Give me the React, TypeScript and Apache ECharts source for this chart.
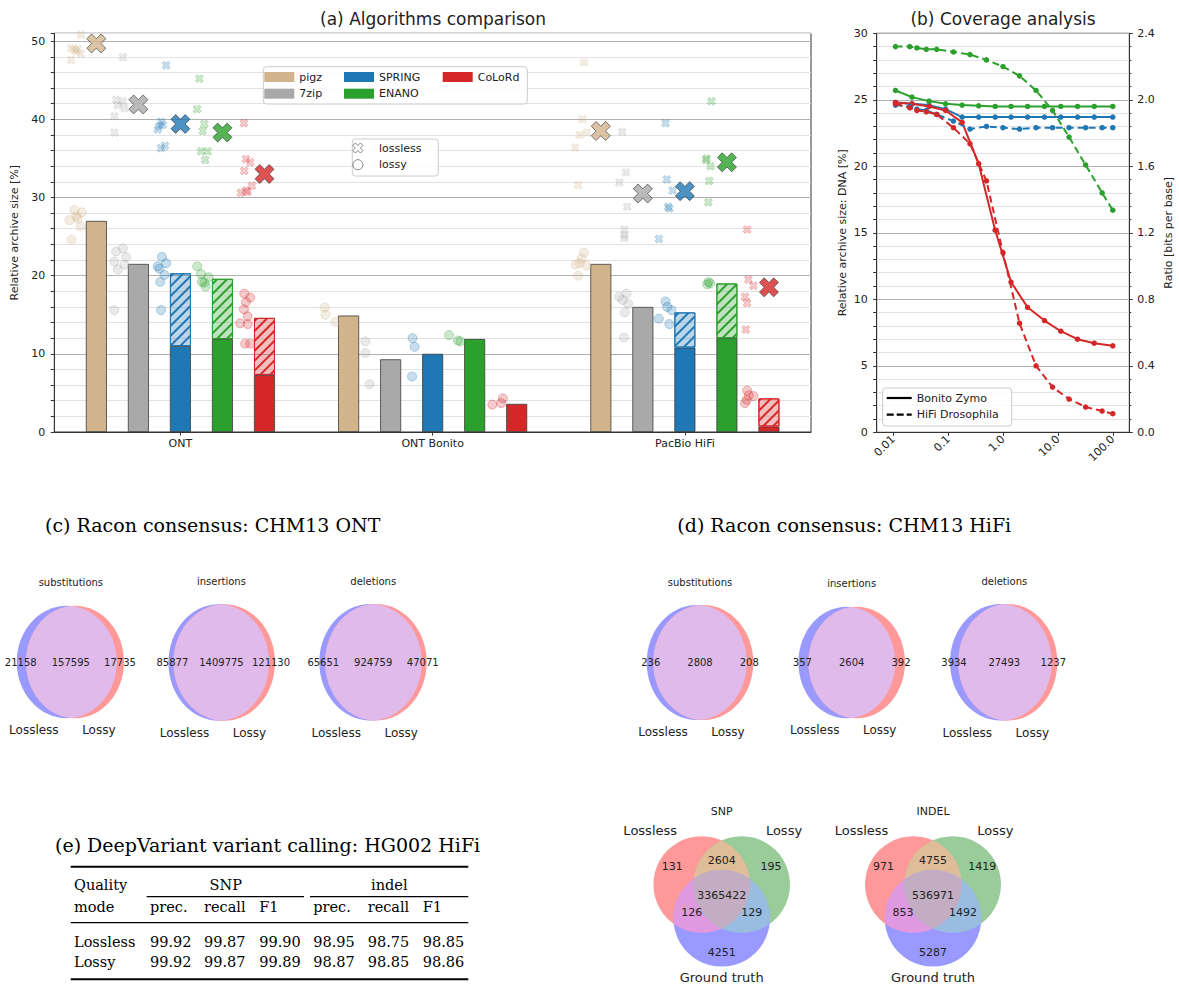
import React, { useEffect, useRef } from "react";
import * as echarts from "echarts";

// ---------------- (a) Algorithms comparison ----------------
const categories = ["ONT", "ONT Bonito", "PacBio HiFi"];
const tools = ["pigz", "7zip", "SPRING", "ENANO", "CoLoRd"];
const toolColors = ["#d2b48c", "#a9a9a9", "#1f77b4", "#2ca02c", "#d62728"];

// solid part of the bars and total bar height (hatched part = total - solid)
const pigzBar = [27.0, 14.9, 21.5];
const sevenZipBar = [21.5, 9.3, 16.0];
const springSolid = [11.0, 10.0, 10.8];
const springTotal = [20.3, 10.0, 15.3];
const enanoSolid = [11.9, 11.9, 12.0];
const enanoTotal = [19.6, 11.9, 19.0];
const colordSolid = [7.3, 3.6, 0.7];
const colordTotal = [14.6, 3.6, 4.3];

// lossless means (big X markers), null = not available
const pigzMean = [49.7, null, 38.5];
const sevenZipMean = [41.9, null, 30.5];
const springMean = [39.4, null, 30.8];
const enanoMean = [38.3, null, 34.5];
const colordMean = [33.0, null, 18.5];

// individual runs: [offset within slot, value] per category
const pigzLossless = [
  [[-0.37, 50.8], [-0.6, 49.1], [-0.44, 49.0], [-0.48, 48.7], [-0.37, 48.4], [-0.6, 47.6], [-0.52, 48.9]],
  [],
  [[-0.4, 47.3], [-0.44, 40.0], [-0.33, 38.3], [-0.5, 38.0], [-0.61, 36.4], [-0.54, 31.6]],
];
const pigzLossy = [
  [[-0.52, 28.4], [-0.34, 28.1], [-0.64, 27.1], [-0.44, 27.3], [-0.37, 26.3], [-0.59, 24.6], [-0.48, 27.6]],
  [[-0.57, 15.9], [-0.55, 15.0], [-0.31, 14.1]],
  [[-0.4, 22.95], [-0.46, 22.2], [-0.6, 21.4], [-0.5, 21.6], [-0.34, 21.3], [-0.54, 20.0]],
];
const sevenZipLossless = [
  [[-0.37, 47.95], [-0.53, 42.5], [-0.33, 41.4], [-0.57, 40.4], [-0.57, 38.3], [-0.49, 41.8], [-0.37, 42.3]],
  [],
  [[-0.49, 38.4], [-0.4, 33.2], [-0.56, 31.9], [-0.37, 28.8], [-0.44, 25.9], [-0.44, 25.2], [-0.44, 24.8]],
];
const sevenZipLossy = [
  [[-0.37, 23.5], [-0.53, 23.1], [-0.29, 22.4], [-0.57, 21.8], [-0.33, 21.4], [-0.49, 20.8], [-0.57, 15.6]],
  [[-0.6, 11.6], [-0.6, 10.1], [-0.5, 6.1]],
  [[-0.57, 17.3], [-0.39, 17.7], [-0.48, 16.9], [-0.35, 16.4], [-0.43, 15.3], [-0.45, 12.1]],
];
const springLossless = [
  [[-0.34, 46.9], [-0.46, 39.7], [-0.5, 39.1], [-0.54, 38.7], [-0.42, 39.3], [-0.46, 36.3], [-0.37, 36.6]],
  [],
  [[-0.46, 39.5], [-0.43, 32.3], [-0.29, 30.9], [-0.4, 28.8], [-0.37, 28.6], [-0.62, 24.7]],
];
const springLossy = [
  [[-0.44, 22.4], [-0.54, 21.2], [-0.34, 21.6], [-0.38, 20.1], [-0.48, 19.2], [-0.46, 15.6], [-0.5, 20.9]],
  [[-0.48, 12.0], [-0.43, 10.9], [-0.49, 7.1]],
  [[-0.46, 16.7], [-0.42, 16.0], [-0.32, 15.6], [-0.62, 14.5], [-0.37, 13.8]],
];
const enanoLossless = [
  [[-0.55, 45.2], [-0.6, 41.3], [-0.43, 39.4], [-0.47, 38.5], [-0.51, 35.9], [-0.35, 35.9], [-0.41, 34.8]],
  [],
  [[-0.37, 42.3], [-0.5, 34.8], [-0.39, 34.0], [-0.42, 32.1], [-0.44, 29.4], [-0.48, 35.0]],
];
const enanoLossy = [
  [[-0.6, 21.2], [-0.51, 20.2], [-0.33, 19.8], [-0.43, 19.1], [-0.4, 18.6], [-0.49, 19.2]],
  [[-0.61, 12.4], [-0.4, 11.7], [-0.34, 11.6]],
  [[-0.44, 19.2], [-0.4, 19.0], [-0.47, 18.9]],
];
const colordLossless = [
  [[-0.49, 39.5], [-0.44, 34.9], [-0.34, 34.5], [-0.48, 33.4], [-0.3, 31.5], [-0.44, 30.9], [-0.56, 30.6], [-0.4, 30.7]],
  [],
  [[-0.52, 25.9], [-0.49, 19.5], [-0.37, 18.7], [-0.57, 17.3], [-0.52, 16.5], [-0.55, 13.1]],
];
const colordLossy = [
  [[-0.48, 17.7], [-0.34, 17.2], [-0.44, 16.6], [-0.49, 15.7], [-0.4, 14.8], [-0.58, 13.9], [-0.4, 13.8], [-0.46, 11.3], [-0.34, 11.3]],
  [[-0.58, 3.5], [-0.37, 3.7], [-0.33, 4.3]],
  [[-0.52, 5.3], [-0.37, 4.6], [-0.48, 4.7], [-0.57, 3.7], [-0.53, 4.1]],
];

// ---------------- (b) Coverage analysis ----------------
const coverageZymo = [0.011, 0.022, 0.045, 0.09, 0.18, 0.36, 0.72, 1.4, 2.8, 5.7, 11.3, 22.8, 46, 100];
const springZymo = [24.8, 24.7, 24.6, 24.3, 23.7, 23.7, 23.7, 23.7, 23.7, 23.7, 23.7, 23.7, 23.7, 23.7];
const enanoZymo = [25.7, 25.2, 24.9, 24.7, 24.6, 24.55, 24.5, 24.5, 24.5, 24.5, 24.5, 24.5, 24.5, 24.5];
const colordZymo = [24.8, 24.7, 24.5, 24.2, 23.3, 20.2, 15.2, 11.3, 9.4, 8.4, 7.6, 7.0, 6.7, 6.5];
const coverageDroso = [0.011, 0.02, 0.027, 0.04, 0.062, 0.125, 0.25, 0.5, 1, 2, 4, 8, 16, 32, 64, 100];
const springDroso = [24.6, 24.5, 24.3, 24.2, 23.9, 23.4, 22.8, 23.0, 22.9, 22.8, 22.9, 22.9, 22.9, 22.9, 22.9, 22.9];
const enanoDroso = [29.0, 29.0, 28.9, 28.8, 28.8, 28.6, 28.4, 28.0, 27.5, 26.8, 25.7, 24.2, 22.2, 20.1, 18.0, 16.7];
const colordDroso = [24.7, 24.4, 24.2, 24.1, 23.9, 22.9, 21.7, 18.9, 13.5, 8.2, 5.0, 3.4, 2.5, 1.9, 1.6, 1.4];

// ---------------- (c)/(d) Racon consensus ----------------
const raconTitles = ["substitutions", "insertions", "deletions"];
const ontLosslessOnly = [21158, 85877, 65651];
const ontShared = [157595, 1409775, 924759];
const ontLossyOnly = [17735, 121130, 47071];
const hifiLosslessOnly = [236, 357, 3934];
const hifiShared = [2808, 2604, 27493];
const hifiLossyOnly = [208, 392, 1237];

// ---------------- (e) DeepVariant ----------------
const qualityModes = ["Lossless", "Lossy"];
const metricNames = ["prec.", "recall", "F1"];
const snpMetrics = [[99.92, 99.87, 99.9], [99.92, 99.87, 99.89]];
const indelMetrics = [[98.95, 98.75, 98.85], [98.87, 98.85, 98.86]];
const venn3Titles = ["SNP", "INDEL"];
const venn3Sets = ["Lossless", "Lossy", "Ground truth"];
// region order: A only, B only, A&B, C only, A&C, B&C, A&B&C
const snpCounts = [131, 195, 2604, 4251, 126, 129, 3365422];
const indelCounts = [971, 1419, 4755, 5287, 853, 1492, 536971];

// ---------------- helpers / layout ----------------
const SANS = "'DejaVu Sans', sans-serif";
const SERIF = "'DejaVu Serif', serif";
const TXT = "#222";
const XPATH = "path://M0,2.5L2.5,0L5,2.5L7.5,0L10,2.5L7.5,5L10,7.5L7.5,10L5,7.5L2.5,10L0,7.5L2.5,5Z";
const SOLID_ICON = "path://M0,0H25V2.2H0Z";
const DASH_ICON = "path://M0,0H7V2.2H0Z M10,0H17V2.2H10Z M20,0H25V2.2H20Z";

function rgba(hex: string, a: number) {
  const n = parseInt(hex.slice(1), 16);
  return `rgba(${(n >> 16) & 255},${(n >> 8) & 255},${n & 255},${a})`;
}
const slotX = (ci: number, ti: number, dx = 0) => ci + 0.5 + (ti - 2 + dx) / 6;

type E = { cx: number; cy: number; rx: number; ry: number };
function ellPts(e: E, n = 360): number[][] {
  const out: number[][] = [];
  for (let i = 0; i < n; i++) {
    const t = (i / n) * Math.PI * 2;
    out.push([e.cx + e.rx * Math.cos(t), e.cy + e.ry * Math.sin(t)]);
  }
  return out;
}
function inside(p: number[], e: E) {
  const dx = (p[0] - e.cx) / e.rx, dy = (p[1] - e.cy) / e.ry;
  return dx * dx + dy * dy <= 1 + 1e-9;
}
function intersect(shapes: E[]): number[][] {
  const pts: number[][] = [];
  shapes.forEach((s, i) =>
    ellPts(s).forEach((p) => {
      if (shapes.every((o, j) => j === i || inside(p, o))) pts.push(p);
    })
  );
  const mx = pts.reduce((a, p) => a + p[0], 0) / pts.length;
  const my = pts.reduce((a, p) => a + p[1], 0) / pts.length;
  pts.sort((a, b) => Math.atan2(a[1] - my, a[0] - mx) - Math.atan2(b[1] - my, b[0] - mx));
  return pts;
}

const venn2Layout = [
  { cxA: 66.7, cxB: 75, cy: 662, rxA: 50, rxB: 49, ry: 56.2 },
  { cxA: 218.7, cxB: 224.2, cy: 662.5, rxA: 50.3, rxB: 50.8, ry: 58.2 },
  { cxA: 370.5, cxB: 375.9, cy: 662.3, rxA: 51.2, rxB: 50.8, ry: 58.3 },
  { cxA: 696.7, cxB: 703.3, cy: 662.5, rxA: 50, rxB: 50, ry: 57.5 },
  { cxA: 846.7, cxB: 856.7, cy: 662.5, rxA: 48.3, rxB: 48.3, ry: 55.8 },
  { cxA: 1000.8, cxB: 1007.8, cy: 662.3, rxA: 50.8, rxB: 49.5, ry: 58.3 },
];
const venn3Layout = [
  { cx: 721.7, cy: 884.5, dx: 20, dyC: 33.8, r: 48.3 },
  { cx: 933, cy: 884.5, dx: 19.7, dyC: 33.8, r: 48.3 },
];
const venn3LabelOffsets = [[-49.4, -18.2], [49.3, -18.2], [0, -24.5], [0, 67.8], [-30, 27.8], [30, 27.8], [0, 10.5]];
const tableCols = [150, 204, 259.3, 313.3, 367.7, 422.7];

function buildGraphics() {
  const g: any[] = [];
  const text = (t: string, x: number, y: number, size: number, family: string, align = "center", extra: any = {}) =>
    g.push({
      type: "text", x, y, z: 10,
      style: { text: t, fontSize: size, fontFamily: family, fill: extra.fill || TXT, align, verticalAlign: "middle" },
    });
  // panel titles
  text("(a) Algorithms comparison", 433, 19, 17, SANS);
  text("(b) Coverage analysis", 1003, 19, 17, SANS);
  text("(c) Racon consensus: CHM13 ONT", 45, 525, 19, SERIF, "left", { fill: "#000" });
  text("(d) Racon consensus: CHM13 HiFi", 677.3, 525, 19, SERIF, "left", { fill: "#000" });
  text("(e) DeepVariant variant calling: HG002 HiFi", 55, 845, 19, SERIF, "left", { fill: "#000" });

  // legend frames
  const frame = (x: number, y: number, w: number, h: number) =>
    g.push({ type: "rect", z: 3, shape: { x, y, width: w, height: h, r: 3 }, style: { fill: "rgba(255,255,255,0.85)", stroke: "#cccccc", lineWidth: 1 } });
  frame(263.3, 66.7, 264, 37.3);
  frame(352.3, 139, 86, 37);
  frame(882.7, 388, 129, 38);

  // two-set venns
  const onlyA = [...ontLosslessOnly, ...hifiLosslessOnly];
  const shared = [...ontShared, ...hifiShared];
  const onlyB = [...ontLossyOnly, ...hifiLossyOnly];
  venn2Layout.forEach((L, i) => {
    const A: E = { cx: L.cxA, cy: L.cy, rx: L.rxA, ry: L.ry };
    const B: E = { cx: L.cxB, cy: L.cy, rx: L.rxB, ry: L.ry };
    g.push({ type: "ellipse", shape: A, style: { fill: "#9999ff" } });
    g.push({ type: "ellipse", shape: B, style: { fill: "#ff9999" } });
    g.push({ type: "polygon", shape: { points: intersect([A, B]) }, style: { fill: "#e0baeb" } });
    const mid = (L.cxA + L.cxB) / 2;
    text(String(onlyA[i]), L.cxA - L.rxA + 4, L.cy, 10, SANS);
    text(String(shared[i]), mid, L.cy, 10, SANS);
    text(String(onlyB[i]), L.cxB + L.rxB - 4, L.cy, 10, SANS);
    text(raconTitles[i % 3], mid, L.cy - L.ry - 23, 10, SANS);
    text("Lossless", mid - 37, L.cy + L.ry + 12, 12, SANS);
    text("Lossy", mid + 28, L.cy + L.ry + 12, 12, SANS);
  });

  // three-set venns
  const counts3 = [snpCounts, indelCounts];
  venn3Layout.forEach((L, i) => {
    const A: E = { cx: L.cx - L.dx, cy: L.cy, rx: L.r, ry: L.r };
    const B: E = { cx: L.cx + L.dx, cy: L.cy, rx: L.r, ry: L.r };
    const C: E = { cx: L.cx, cy: L.cy + L.dyC, rx: L.r, ry: L.r };
    [[A, "#ff9999"], [B, "#99cc99"], [C, "#9999ff"]].forEach(([e, c]: any) =>
      g.push({ type: "circle", shape: { cx: e.cx, cy: e.cy, r: e.rx }, style: { fill: c } })
    );
    [[[A, B], "#e0bd99"], [[A, C], "#e099e0"], [[B, C], "#99bde0"], [[A, B, C], "#c2adc2"]].forEach(([s, c]: any) =>
      g.push({ type: "polygon", shape: { points: intersect(s) }, style: { fill: c } })
    );
    counts3[i].forEach((v, k) =>
      text(String(v), L.cx + venn3LabelOffsets[k][0], L.cy + venn3LabelOffsets[k][1], 11, SANS)
    );
    text(venn3Titles[i], L.cx, 811.7, 11, SANS);
    text(venn3Sets[0], L.cx - 71.5, 830.7, 13, SANS);
    text(venn3Sets[1], L.cx + 62.3, 830.7, 13, SANS);
    text(venn3Sets[2], L.cx, 977.3, 13, SANS);
  });

  // table
  const rule = (x1: number, x2: number, y: number, w: number) =>
    g.push({ type: "line", shape: { x1, y1: y, x2, y2: y }, style: { stroke: "#000", lineWidth: w } });
  rule(70.7, 468.3, 866.7, 2);
  rule(146.7, 304, 896.7, 1.2);
  rule(310, 468.3, 896.7, 1.2);
  rule(70.7, 468.3, 922.7, 1.2);
  rule(70.7, 468.3, 979.3, 2);
  const T = 14.5;
  text("Quality", 74, 885, T, SERIF, "left", { fill: "#000" });
  text("mode", 74, 906.7, T, SERIF, "left", { fill: "#000" });
  text("SNP", 225.7, 885, T, SERIF, "center", { fill: "#000" });
  text("indel", 389.3, 885, T, SERIF, "center", { fill: "#000" });
  [...metricNames, ...metricNames].forEach((m, k) => text(m, tableCols[k], 906.7, T, SERIF, "left", { fill: "#000" }));
  qualityModes.forEach((mode, r) => {
    const y = 941.7 + r * 20;
    text(mode, 74, y, T, SERIF, "left", { fill: "#000" });
    [...snpMetrics[r], ...indelMetrics[r]].forEach((v, k) => text(v.toFixed(2), tableCols[k], y, T, SERIF, "left", { fill: "#000" }));
  });
  return g;
}

function buildOption() {
  const solidBars = [pigzBar, sevenZipBar, springSolid, enanoSolid, colordSolid];
  const totalBars = [pigzBar, sevenZipBar, springTotal, enanoTotal, colordTotal];
  const losslessPts = [pigzLossless, sevenZipLossless, springLossless, enanoLossless, colordLossless];
  const lossyPts = [pigzLossy, sevenZipLossy, springLossy, enanoLossy, colordLossy];
  const means = [pigzMean, sevenZipMean, springMean, enanoMean, colordMean];

  const series: any[] = [];
  tools.forEach((tool, ti) => {
    const hue = toolColors[ti];
    series.push({
      type: "bar", name: tool, stack: tool, xAxisIndex: 0, yAxisIndex: 0, barWidth: "8.33%", barGap: "100%",
      data: solidBars[ti], itemStyle: { color: hue, borderColor: "#3c3c3c", borderWidth: 0.8 }, z: 2,
    });
    if (ti >= 2) {
      series.push({
        type: "bar", name: `${tool} (hatched)`, stack: tool, xAxisIndex: 0, yAxisIndex: 0, barWidth: "8.33%", barGap: "100%",
        data: totalBars[ti].map((v, i) => {
          const d = v - solidBars[ti][i];
          return d > 0.05 ? Math.round(d * 100) / 100 : "-";
        }),
        itemStyle: {
          color: rgba(hue, 0.3), borderColor: hue, borderWidth: 1,
          decal: { symbol: "rect", symbolSize: 1, color: hue, dashArrayX: [1, 0], dashArrayY: [1.4, 4.6], rotation: -Math.PI / 4 },
        },
        z: 2,
      });
    }
  });
  tools.forEach((tool, ti) => {
    const hue = toolColors[ti];
    series.push({
      type: "scatter", name: `${tool} lossless runs`, xAxisIndex: 1, yAxisIndex: 0, symbol: XPATH, symbolSize: 8,
      data: losslessPts[ti].flatMap((pts, ci) => pts.map(([dx, v]) => [slotX(ci, ti, dx), v])),
      itemStyle: { color: rgba(hue, 0.3), borderColor: rgba(hue, 0.45), borderWidth: 0.8 }, z: 3,
    });
    series.push({
      type: "scatter", name: `${tool} lossy runs`, xAxisIndex: 1, yAxisIndex: 0, symbol: "circle", symbolSize: 9,
      data: lossyPts[ti].flatMap((pts, ci) => pts.map(([dx, v]) => [slotX(ci, ti, dx), v])),
      itemStyle: { color: rgba(hue, 0.3), borderColor: rgba(hue, 0.5), borderWidth: 0.8 }, z: 3,
    });
    series.push({
      type: "scatter", name: `${tool} lossless mean`, xAxisIndex: 1, yAxisIndex: 0, symbol: XPATH, symbolSize: 19,
      data: means[ti].map((v, ci) => (v == null ? null : [slotX(ci, ti), v])).filter((d) => d),
      itemStyle: { color: hue, borderColor: "#333", borderWidth: 0.8 }, z: 4,
    });
  });
  series.push({ type: "scatter", name: "lossless", xAxisIndex: 1, yAxisIndex: 0, data: [], symbol: XPATH, itemStyle: { color: "#fff", borderColor: "#444", borderWidth: 0.8 } });
  series.push({ type: "scatter", name: "lossy", xAxisIndex: 1, yAxisIndex: 0, data: [], symbol: "circle", itemStyle: { color: "#fff", borderColor: "#444", borderWidth: 0.8 } });

  const coverageLines = [
    { name: "SPRING Bonito Zymo", x: coverageZymo, y: springZymo, color: toolColors[2], dashed: false },
    { name: "ENANO Bonito Zymo", x: coverageZymo, y: enanoZymo, color: toolColors[3], dashed: false },
    { name: "CoLoRd Bonito Zymo", x: coverageZymo, y: colordZymo, color: toolColors[4], dashed: false },
    { name: "SPRING HiFi Drosophila", x: coverageDroso, y: springDroso, color: toolColors[2], dashed: true },
    { name: "ENANO HiFi Drosophila", x: coverageDroso, y: enanoDroso, color: toolColors[3], dashed: true },
    { name: "CoLoRd HiFi Drosophila", x: coverageDroso, y: colordDroso, color: toolColors[4], dashed: true },
  ];
  coverageLines.forEach((l) =>
    series.push({
      type: "line", name: l.name, xAxisIndex: 2, yAxisIndex: 1, symbol: "circle", symbolSize: 5.5, showSymbol: true,
      data: l.x.map((c, i) => [c, l.y[i]]),
      lineStyle: { color: l.color, width: 2, type: l.dashed ? [7, 4] : "solid" },
      itemStyle: { color: l.color }, z: 3,
    })
  );
  series.push({ type: "line", name: "Bonito Zymo", xAxisIndex: 2, yAxisIndex: 1, data: [], symbol: "none", lineStyle: { color: "#000", width: 2 }, itemStyle: { color: "#000" } });
  series.push({ type: "line", name: "HiFi Drosophila", xAxisIndex: 2, yAxisIndex: 1, data: [], symbol: "none", lineStyle: { color: "#000", width: 2, type: [6, 3] }, itemStyle: { color: "#000" } });

  const axisCommon = {
    axisLine: { show: true, lineStyle: { color: "#333", width: 1 } },
    axisTick: { show: true, length: 3.5, lineStyle: { color: "#333" } },
    axisLabel: { fontSize: 11, fontFamily: SANS, color: TXT },
    nameTextStyle: { fontSize: 11, fontFamily: SANS, color: TXT },
  };
  const legendCommon = {
    orient: "vertical", padding: 0, itemGap: 3.7, selectedMode: false, z: 5,
    textStyle: { fontSize: 11, fontFamily: SANS, color: TXT, lineHeight: 13 },
  };
  const outline = { color: "#fff", borderColor: "#444", borderWidth: 0.8 };

  return {
    animation: false,
    grid: [
      { left: 54.3, top: 33.3, width: 756.7, height: 398.7, show: true, borderColor: "#333", borderWidth: 1, backgroundColor: "transparent", outerBoundsMode: "none" },
      { left: 876.7, top: 33.3, width: 252.6, height: 399, show: true, borderColor: "#333", borderWidth: 1, backgroundColor: "transparent", outerBoundsMode: "none" },
    ],
    xAxis: [
      { ...axisCommon, type: "category", gridIndex: 0, data: categories, axisTick: { ...axisCommon.axisTick, alignWithLabel: true }, axisLabel: { ...axisCommon.axisLabel, margin: 6 }, splitLine: { show: false } },
      { type: "value", gridIndex: 0, min: 0, max: 3, show: false },
      {
        ...axisCommon, type: "log", logBase: 10, gridIndex: 1, min: 0.005, max: 200, splitLine: { show: false },
        axisLabel: { ...axisCommon.axisLabel, rotate: 45, margin: 5, showMinLabel: false, showMaxLabel: false, formatter: (v: number) => (v >= 1 ? v.toFixed(1) : String(v)) },
      },
    ],
    yAxis: [
      {
        ...axisCommon, type: "value", gridIndex: 0, min: 0, max: 51, interval: 2,
        name: "Relative archive size [%]", nameLocation: "middle", nameRotate: 90, nameGap: 27,
        axisLabel: { ...axisCommon.axisLabel, margin: 9, formatter: (v: number) => (v % 10 === 0 ? String(v) : "") },
        splitLine: { show: true, lineStyle: { color: ["#b0b0b0", "#e2e2e2", "#e2e2e2", "#e2e2e2", "#e2e2e2"], width: 1 } },
      },
      {
        ...axisCommon, type: "value", gridIndex: 1, min: 0, max: 30, interval: 1,
        name: "Relative archive size: DNA [%]", nameLocation: "middle", nameRotate: 90, nameGap: 29,
        axisLabel: { ...axisCommon.axisLabel, margin: 9, formatter: (v: number) => (v % 5 === 0 ? String(v) : "") },
        splitLine: { show: true, lineStyle: { color: ["#b0b0b0", "#e2e2e2", "#e2e2e2", "#e2e2e2", "#e2e2e2"], width: 1 } },
      },
      {
        ...axisCommon, type: "value", gridIndex: 1, position: "right", min: 0, max: 2.4, interval: 0.4,
        name: "Ratio [bits per base]", nameLocation: "middle", nameRotate: 90, nameGap: 34,
        axisLabel: { ...axisCommon.axisLabel, margin: 8, formatter: (v: number) => v.toFixed(1) },
        minorTick: { show: true, splitNumber: 5, length: 2, lineStyle: { color: "#333" } },
        splitLine: { show: false },
      },
    ],
    legend: [
      { ...legendCommon, data: ["pigz", "7zip"], left: 264.3, top: 70.5, itemWidth: 30, itemHeight: 10, icon: "rect", itemStyle: { borderWidth: 0 } },
      { ...legendCommon, data: ["SPRING", "ENANO"], left: 344, top: 70.5, itemWidth: 30, itemHeight: 10, icon: "rect", itemStyle: { borderWidth: 0 } },
      { ...legendCommon, data: ["CoLoRd"], left: 442.7, top: 70.5, itemWidth: 30, itemHeight: 10, icon: "rect", itemStyle: { borderWidth: 0 } },
      {
        ...legendCommon, left: 352.5, top: 141.5, itemWidth: 32, itemHeight: 10,
        data: [{ name: "lossless", icon: XPATH, itemStyle: outline }, { name: "lossy", icon: "circle", itemStyle: outline }],
      },
      {
        ...legendCommon, left: 886.7, top: 391.5, itemWidth: 25, itemHeight: 10,
        data: [{ name: "Bonito Zymo", icon: SOLID_ICON }, { name: "HiFi Drosophila", icon: DASH_ICON }],
      },
    ],
    series,
    graphic: { elements: buildGraphics() },
  };
}

export default function App() {
  const ref = useRef<HTMLDivElement>(null);
  useEffect(() => {
    if (!ref.current) return;
    const chart = echarts.init(ref.current, undefined, { renderer: "svg" });
    chart.setOption(buildOption() as any);
    return () => chart.dispose();
  }, []);
  return <div ref={ref} style={{ position: "absolute", left: 0, top: 0, width: 1179, height: 985, background: "#fff" }} />;
}
